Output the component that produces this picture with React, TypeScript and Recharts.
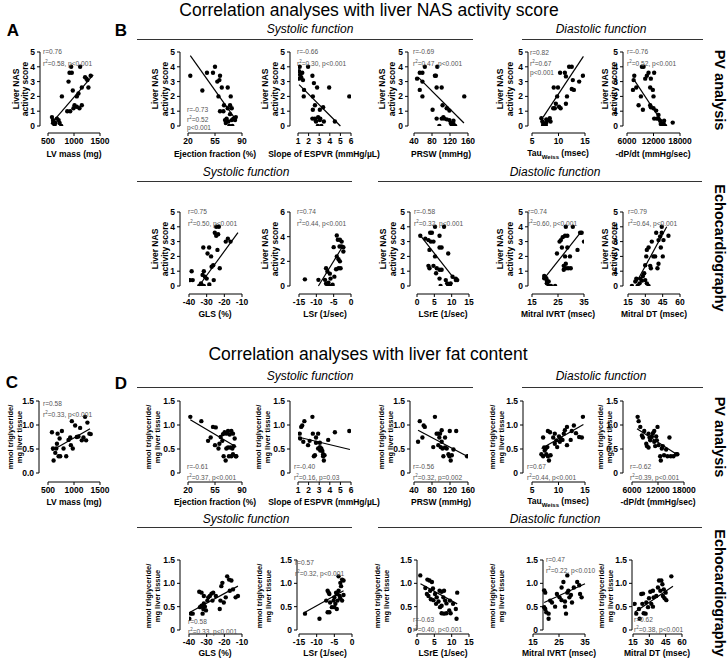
import React from "react";
import { ScatterChart, Scatter, XAxis, YAxis, ReferenceLine } from "recharts";

// ---- data: [x, y] pairs ----

// NAS activity score, PV analysis
const lvMassNas = [[576,0.6],[596,0.4],[608,0.3],[640,0.2],[672,0.5],[704,0.4],[723,0.2],[755,0],[627,0],[600,0.2],[767,2.0],[870,1.0],[927,1.0],[895,3.0],[914,3.6],[946,4.0],[958,3.6],[1118,4.0],[977,2.4],[1054,2.0],[1086,2.2],[990,1.2],[1054,1.3],[1105,1.2],[1150,1.4],[1150,2.6],[1213,3.3],[1258,3.1],[1320,3.4],[1277,2.6],[1240,3.2],[1010,1.4]];
const lvMassNasFit = [[557,0.15],[1370,3.45]];
const efNas = [[23,3.4],[38.6,2.4],[44.6,3.6],[52.4,3.6],[55,4.0],[58,3.0],[61.5,3.4],[60.7,3.1],[59.5,2.0],[63.8,2.6],[61.5,1.0],[65.9,1.0],[66.7,1.4],[71.5,2.6],[75.4,2.0],[74.5,1.4],[71.5,1.2],[76.7,1.2],[70,0.5],[72.3,0.3],[69,0.2],[73.5,0],[76.7,0.4],[78.8,0.5],[81,0.4],[77.5,0],[74.5,0.8],[82,0.6],[68,0.4]];
const efNasFit = [[23,4.75],[81,0.5]];
const espvrNas = [[1.16,4.0],[1.95,4.0],[1.1,3.7],[1.2,3.46],[1.3,3.3],[1.47,3.1],[1.1,3.2],[1.4,3.6],[1.57,2.44],[1.54,2.0],[2.36,3.4],[2.5,2.9],[2.8,2.6],[3.94,2.6],[5.84,2.0],[2.4,2.0],[2.6,1.4],[2.4,1.1],[3.06,1.1],[3.37,1.27],[2.36,0.5],[2.6,0.5],[2.9,0.6],[3.1,0.5],[2.7,0.3],[2.87,0],[3.2,0],[3.44,0.3],[4.48,0.3],[3.06,0.4],[2.68,0.36]];
const espvrNasFit = [[1.1,2.8],[5,0]];
const prswNas = [[46.8,3.2],[52.8,3.6],[58.7,3.6],[64,4.0],[52.8,2.44],[58.7,3.0],[58.7,2.0],[91.7,4.0],[86.5,3.4],[88.7,3.4],[90.3,2.6],[101.5,2.6],[81.3,1.1],[103.5,1.4],[112.7,1.2],[118.7,1.04],[90.3,0.5],[96.3,0],[101.5,0.5],[105.3,0.6],[112.7,0.45],[118.7,0.4],[121.6,0.2],[124,0.07],[127.7,0.14],[131.5,0],[127.7,0.36],[151.7,2.0],[107,0.5]];
const prswNasFit = [[49,3.3],[151,0.2]];
const tauNas = [[6.77,0.52],[6.96,0.3],[7.2,0.18],[7.4,0.14],[7.7,0.23],[7.1,0.07],[7.6,0.07],[8.0,0.4],[8.35,0.52],[7.7,0.45],[8.5,0.3],[9.0,1.2],[9.3,1.2],[9.5,1.5],[10.1,1.3],[10.4,1.2],[9.1,2.6],[9.9,2.6],[9.75,2.0],[10.3,3.6],[11.2,3.6],[11.4,3.35],[11.6,2.0],[11.4,1.5],[12.0,4.0],[12.5,4.0],[12.7,3.1],[12.5,2.5],[13.9,3.0],[14.6,3.4],[12.9,2.44]];
const tauNasFit = [[7.1,0.6],[14.7,4.7]];
const dpdtNas = [[7650,3.4],[7500,3.1],[7350,2.44],[8100,2.6],[8625,1.4],[9150,2.0],[9600,1.1],[9375,4.0],[9750,4.0],[10125,3.2],[10500,3.4],[10875,3.6],[11400,3.2],[12150,3.6],[11250,2.6],[11850,2.44],[12000,2.0],[11250,1.4],[11400,1.27],[12000,1.2],[12600,1.04],[12150,0.5],[12750,0.5],[13125,0.5],[13500,0.36],[13650,0.14],[13875,0],[14250,0.18],[14625,0],[14400,0.36],[16350,0.23],[13125,0.75]];
const dpdtNasFit = [[7650,3.1],[14300,0.1]];

// NAS activity score, echocardiography
const glsNas = [[-39.4,0.4],[-37.9,0.4],[-38.5,1.0],[-34.2,0],[-33.2,0.18],[-32.3,0],[-31.6,0],[-32.3,0.75],[-31,0.63],[-30,0.5],[-31.6,1.0],[-31.9,2.6],[-28.6,2.6],[-29.5,2.2],[-27.5,2.0],[-27.2,1.3],[-26.3,1.4],[-22.6,1.2],[-24.6,4.0],[-23.1,4.0],[-25.4,3.6],[-23.5,3.5],[-24.6,3.4],[-23.9,2.44],[-19.2,3.0],[-16.5,3.0],[-18,3.2],[-26,0.4],[-28.5,0.1]];
const glsNasFit = [[-34.4,0],[-12.3,3.6]];
const lsrNas = [[-13.3,0.54],[-9.4,0.5],[-7.2,1.44],[-6.8,1.17],[-6.1,1.0],[-7.5,0.5],[-7.2,0.2],[-6.8,0.1],[-6.5,0.27],[-6.2,0],[-5.3,0.1],[-5.9,0.6],[-4.8,0.76],[-4.1,4.1],[-3.8,3.75],[-3.2,3.75],[-2.7,3.6],[-3.3,3.2],[-2.7,3.2],[-2.2,3.15],[-4.1,2.4],[-3.6,2.17],[-3.2,2.0],[-4.3,1.36],[-3.6,1.44],[-3.0,1.44],[-5.0,3.15],[-2.2,2.8]];
const lsrNasFit = [[-9.4,0],[-2.2,3.3]];
const lsreNas = [[0.95,3.4],[2.4,3.2],[3.8,3.6],[4.3,3.6],[5.2,4.0],[6.5,3.4],[7.8,4.0],[3.3,3.1],[4.0,3.0],[4.75,3.0],[3.6,2.44],[5.2,2.0],[6.5,2.6],[7.1,2.6],[9.0,2.2],[3.3,1.36],[3.6,1.2],[4.75,1.36],[5.7,1.2],[6.5,1.1],[5.5,0.86],[7.1,1.1],[6.5,0.5],[6.8,0],[8.3,0.4],[8.7,0.18],[9.0,0],[9.7,0.18],[9.5,0],[10.25,0.63],[11.2,0.5],[11.6,0.4],[11.2,0.4]];
const lsreNasFit = [[1,3.4],[11.4,0.3]];
const ivrtNas = [[19.7,0.68],[19.7,0.52],[20.5,0.52],[20.7,0.36],[21.4,0.3],[20.7,0.18],[21.4,0],[22.3,0],[23.9,0],[24.6,2.2],[25.6,3.0],[26.1,3.1],[26.5,2.6],[26.8,3.3],[27.7,3.4],[28.0,4.0],[28.6,3.4],[28.6,2.6],[27.7,2.0],[27.2,1.36],[28.0,1.2],[28.9,1.2],[27.2,1.1],[28,1.5],[29.6,2.0],[29.9,1.2],[30.7,4.0],[32.5,2.44],[33.5,3.6],[34.1,3.6],[35,3.0]];
const ivrtNasFit = [[20.1,0.6],[34.1,3.7]];
const dtNas = [[18.4,0],[21.3,0.3],[22.2,0.5],[23.3,0],[25,0.18],[25.6,0.5],[27,0.36],[27.9,0.68],[29,0.86],[29.9,0.4],[31.3,0.18],[32.8,0],[29.9,1.4],[30.8,2.0],[31.3,2.44],[32.8,2.6],[35.6,3.0],[34.2,1.36],[34.8,1.2],[37,2.0],[38.5,2.0],[40.5,1.2],[41.4,1.5],[39.4,3.6],[41.4,3.1],[42.8,3.35],[44.2,4.0],[43.4,2.6],[45.1,2.0],[45.7,3.1],[50,3.4],[44.2,3.6]];
const dtNasFit = [[22.7,0.3],[48.5,4.0]];

// liver fat content, PV analysis
const lvMassFat = [[576,0.85],[596,0.51],[608,0.26],[640,0.42],[672,0.61],[685,0.82],[704,0.35],[735,0.35],[767,0.875],[723,0.72],[659,0.51],[799,0.51],[850,0.35],[895,0.69],[927,0.74],[940,0.58],[977,0.51],[958,1.08],[1022,0.99],[1054,0.75],[1086,0.76],[1118,0.94],[1150,0.68],[1182,0.74],[1213,1.17],[1258,1.05],[1296,0.82],[1322,0.81],[1233,0.68]];
const lvMassFatFit = [[576,0.47],[1309,0.92]];
const efFat = [[23,1.17],[37.3,1.08],[46,0.67],[52.4,0.96],[56,0.95],[49.4,0.74],[55,0.58],[60.7,0.61],[62.4,0.75],[59.5,0.51],[64.5,0.67],[65.4,0.81],[67.5,0.85],[69.7,0.82],[71.9,0.875],[74,0.8],[76.2,0.875],[78.3,0.82],[80.5,0.72],[69.7,0.51],[71.9,0.53],[75,0.53],[77.5,0.51],[79.3,0.56],[73.1,0.35],[76.2,0.35],[78.3,0.39],[81.8,0.35],[82.6,0.35],[68.8,0.26],[66.2,0.35]];
const efFatFit = [[23,1.11],[82.6,0.54]];
const espvrFat = [[1.16,0.82],[1.2,0.72],[1.3,0.96],[1.4,0.99],[1.6,1.08],[1.5,0.65],[1.95,0.58],[2.36,1.17],[2.4,0.82],[2.5,0.35],[2.6,0.37],[2.7,0.74],[2.7,0.63],[2.9,0.82],[2.9,0.51],[3.06,0.54],[3.1,0.47],[3.2,0.51],[3.3,0.46],[3.37,0.35],[3.44,0.26],[3.37,0.39],[3.5,0.37],[3.06,0.63],[3.85,0.69],[4.48,0.85],[5.84,0.875],[2.1,0.67]];
const espvrFatFit = [[1,0.75],[5.9,0.49]];
const prswFat = [[49,0.65],[52.8,1.08],[58.7,0.74],[61.5,0.99],[64,0.96],[82.8,0.54],[86.5,1.17],[90.3,0.82],[94,0.82],[96.3,0.74],[97.8,0.82],[94,0.58],[99.3,0.54],[101.5,0.65],[103.5,0.51],[105.3,0.35],[109,0.53],[112.7,0.51],[116.5,0.39],[118.7,0.35],[121.6,0.26],[124,0.37],[119.5,0.875],[127.7,0.49],[133.8,0.875],[158,0.35],[109,0.74],[101.5,0.89]];
const prswFatFit = [[49,0.89],[158,0.35]];
const tauFat = [[6.77,0.39],[7.1,0.35],[7.3,0.53],[7.4,0.47],[7.6,0.51],[7.7,0.39],[7.9,0.54],[8.0,0.35],[8.2,0.26],[8.5,0.37],[7.1,0.74],[8.0,0.875],[8.4,0.85],[9.0,0.74],[9.3,0.82],[9.6,0.68],[9.75,0.54],[10.1,0.76],[10.25,0.65],[10.4,0.72],[10.75,0.69],[11,0.82],[11.2,0.89],[11.6,0.96],[11.6,0.58],[12.3,0.69],[12.5,0.875],[13.3,0.83],[13.9,0.75],[14.4,0.74],[14.6,1.17],[12.9,0.99],[9.3,0.61]];
const tauFatFit = [[6.8,0.51],[14.7,1.01]];
const dpdtFat = [[7300,1.17],[7530,1.08],[7910,0.96],[8290,0.78],[8520,0.74],[8830,0.875],[9290,0.61],[9440,0.56],[9820,0.82],[10050,0.74],[10200,0.68],[10590,0.76],[10820,0.83],[11130,0.875],[11130,0.65],[11350,0.56],[11580,0.76],[11730,0.68],[11890,0.96],[12120,0.58],[12500,0.35],[12650,0.26],[12880,0.51],[13100,0.56],[13400,0.37],[13880,0.49],[14180,0.35],[14640,0.74],[14950,0.35],[15560,0.35],[16170,0.39],[16470,0.39],[9820,0.53]];
const dpdtFatFit = [[7150,0.92],[16300,0.39]];

// liver fat content, echocardiography
const glsFat = [[-39.8,0.24],[-39.1,0.35],[-37.9,0.35],[-32.9,0.8],[-34.2,0.82],[-31.6,0.73],[-33.8,0.49],[-32.9,0.52],[-31.9,0.45],[-31.6,0.57],[-31,0.5],[-30.4,0.42],[-32.3,0.35],[-29.6,0.63],[-29.1,0.7],[-28.2,0.73],[-27.2,0.78],[-26.3,0.8],[-26.7,0.63],[-24.8,0.73],[-22.6,0.45],[-22.2,0.63],[-21.7,0.94],[-21.1,1.01],[-20.3,0.59],[-19.2,0.7],[-18.4,1.15],[-17.3,1.08],[-16,1.06],[-16.9,0.84],[-15.1,0.87],[-13.6,0.7],[-12.3,0.73]];
const glsFatFit = [[-39.4,0.38],[-12.3,0.94]];
const lsrFat = [[-13.3,0.35],[-9.2,0.24],[-7.3,0.63],[-6.9,0.84],[-6.6,0.8],[-6.4,0.77],[-6.2,0.59],[-6.9,0.38],[-6.4,0.38],[-5.7,0.49],[-5.2,0.63],[-5.0,0.7],[-4.7,0.56],[-4.5,0.8],[-4.3,0.77],[-4.1,0.63],[-3.8,0.84],[-3.5,0.73],[-3.3,0.68],[-3.1,0.94],[-3.8,1.15],[-3.3,1.01],[-2.8,1.08],[-2.4,1.06],[-2.4,0.75],[-2.8,0.63],[-4.3,0.45],[-5.0,0.49]];
const lsrFatFit = [[-13.3,0.38],[-2.4,0.84]];
const lsreFat = [[0.95,1.17],[2.4,0.9],[3.0,1.08],[3.6,1.06],[4.3,1.03],[3.8,0.84],[4.6,0.89],[5.2,0.77],[2.85,0.77],[3.3,0.73],[4.0,0.66],[4.75,0.64],[5.7,0.7],[6.5,0.84],[7.1,0.82],[7.8,0.84],[5.5,0.56],[6.2,0.61],[6.65,0.49],[7.1,0.52],[7.6,0.7],[8.1,0.63],[8.5,0.57],[7.1,0.36],[7.8,0.35],[8.5,0.36],[9.3,0.42],[9.7,0.36],[10.4,0.56],[11.2,0.45],[11.4,0.24],[11.6,0.8],[9.5,0.63]];
const lsreFatFit = [[1,0.99],[11.6,0.56]];
const ivrtFat = [[19.3,0.85],[19.7,0.8],[19.3,0.49],[19.7,0.45],[20.1,0.38],[21,0.35],[21,0.24],[21.6,0.63],[22.3,0.59],[23.5,0.5],[24.2,0.77],[25.2,0.7],[26,0.91],[26.7,1.03],[27.3,0.61],[27.3,0.5],[27.7,0.35],[28.2,0.8],[28.6,0.84],[28.2,1.17],[29.6,0.75],[30,0.59],[30.7,0.91],[32,1.03],[32.8,0.96],[33.1,0.77],[33.7,0.7],[29,0.7],[26,0.64]];
const ivrtFatFit = [[19.3,0.59],[35,0.99]];
const dtFat = [[16.5,0.56],[18,0.35],[20.5,0.45],[21.1,0.24],[22.6,0.77],[23.6,0.56],[24.2,0.78],[24.8,0.36],[26.6,0.35],[27.2,0.59],[28.8,0.49],[29.7,0.68],[30.9,0.82],[31.8,0.56],[33.3,0.5],[34,0.7],[33.3,0.84],[36.4,0.73],[37.9,0.91],[38.9,1.06],[41,1.06],[42,0.98],[40.1,0.84],[43.3,0.87],[42.5,0.73],[44,0.68],[45.6,0.64],[45,0.8],[50.2,1.15]];
const dtFatFit = [[16.5,0.38],[51.7,0.94]];

// tick values
const NAS_TICKS = [0, 1, 2, 3, 4, 5];
const LSR_NAS_TICKS = [0, 2, 4, 6];
const FAT_TICKS = [0, 0.5, 1, 1.5];
const LV_TICKS = [500, 1000, 1500];
const EF_TICKS = [20, 55, 90];
const ESPVR_TICKS = [1, 2, 3, 4, 5, 6];
const PRSW_TICKS = [40, 80, 120, 160];
const TAU_TICKS = [5, 10, 15];
const DPDT_TICKS = [6000, 12000, 18000];
const GLS_TICKS = [-40, -30, -20, -10];
const LSR_TICKS = [-15, -10, -5, 0];
const LSRE_TICKS = [0, 5, 10, 15];
const IVRT_TICKS = [15, 25, 35];
const DT_TICKS = [15, 30, 45, 60];

const FONT = "'Liberation Sans', Arial, sans-serif";
const TICK = { fill: "#000", fontSize: 8.5, fontWeight: 700, fontFamily: FONT };
const AXW = 32, TOP = 6, RIGHT = 18, XAH = 22;

const fmtFat = (v: number) => (v === 0 ? "0" : v.toFixed(1));
const fmtFat0 = (v: number) => v.toFixed(1);

const Dot = (props: any) => <circle cx={props.cx} cy={props.cy} r={2.2} fill="#000" />;

interface PanelSpec {
  data: number[][];
  fit: number[][];
  xTicks: number[];
  yTicks: number[];
  yAxisX: number;
  xStart: number;
  xEnd: number;
  yTop: number;
  yBot: number;
  xAxisY: number;
  fmtY?: (v: number) => string;
}

function Panel(p: PanelSpec) {
  const x0 = p.xTicks[0];
  const x1 = p.xTicks[p.xTicks.length - 1];
  const y1 = p.yTicks[p.yTicks.length - 1];
  const kx = (x1 - x0) / (p.xEnd - p.xStart);
  const ky = y1 / (p.yBot - p.yTop);
  const xLineY = -(p.xAxisY - p.yBot) * ky;
  const yLineX = x0 - (p.xStart - p.yAxisX) * kx;
  const plotW = p.xEnd - p.yAxisX;
  const plotH = p.xAxisY - p.yTop;
  const pts = p.data.map(([x, y]) => ({ x, y }));
  const fit = p.fit.map(([x, y]) => ({ x, y }));
  return (
    <div style={{ position: "absolute", left: p.yAxisX - AXW, top: p.yTop - TOP }}>
      <ScatterChart
        width={AXW + plotW + RIGHT}
        height={TOP + plotH + XAH}
        margin={{ top: TOP, right: RIGHT, bottom: 0, left: 0 }}
      >
        <XAxis
          type="number"
          dataKey="x"
          domain={[x0, x1]}
          ticks={p.xTicks}
          interval={0}
          padding={{ left: p.xStart - p.yAxisX, right: 0 }}
          axisLine={false}
          tickLine={{ stroke: "#000" }}
          tickSize={3}
          height={XAH}
          tick={TICK}
          allowDataOverflow
        />
        <YAxis
          type="number"
          dataKey="y"
          domain={[0, y1]}
          ticks={p.yTicks}
          interval={0}
          padding={{ top: 0, bottom: p.xAxisY - p.yBot }}
          axisLine={false}
          tickLine={{ stroke: "#000" }}
          tickSize={3}
          width={AXW}
          tick={TICK}
          tickFormatter={p.fmtY}
          allowDataOverflow
        />
        <ReferenceLine segment={[{ x: x0, y: xLineY }, { x: x1, y: xLineY }]} stroke="#000" strokeWidth={1} ifOverflow="visible" />
        <ReferenceLine segment={[{ x: yLineX, y: 0 }, { x: yLineX, y: y1 }]} stroke="#000" strokeWidth={1} ifOverflow="visible" />
        <ReferenceLine segment={fit} stroke="#000" strokeWidth={1.2} ifOverflow="visible" />
        <Scatter data={pts} shape={Dot} isAnimationActive={false} />
      </ScatterChart>
    </div>
  );
}

// ---- text helpers ----
const Txt = ({ x, y, size = 8.5, bold = false, italic = false, color = "#000", rotate = 0, lh, children }: any) => (
  <div
    style={{
      position: "absolute",
      left: x,
      top: y,
      transform: `translate(-50%,-50%) rotate(${rotate}deg)`,
      fontSize: size,
      fontWeight: bold ? 700 : 400,
      fontStyle: italic ? "italic" : "normal",
      color,
      whiteSpace: "nowrap",
      lineHeight: lh ? `${lh}px` : 1.1,
      textAlign: "center",
    }}
  >
    {children}
  </div>
);

const Note = ({ x, y, lines, gap = 9 }: { x: number; y: number; lines: React.ReactNode[]; gap?: number }) => (
  <div style={{ position: "absolute", left: x, top: y - gap / 2, fontSize: 6.6, lineHeight: `${gap}px`, color: "#555", whiteSpace: "nowrap" }}>
    {lines.map((l, i) => (
      <div key={i}>{l}</div>
    ))}
  </div>
);

const Rule = ({ x1, x2, y }: { x1: number; x2: number; y: number }) => (
  <div style={{ position: "absolute", left: x1, top: y, width: x2 - x1, height: 0, borderTop: "1.2px solid #333" }} />
);

const r2 = (s: string) => (
  <span>
    r<sup style={{ fontSize: 4.5, verticalAlign: "3px" }}>2</sup>
    {s}
  </span>
);

const NAS_LABEL = (
  <>
    Liver NAS
    <br />
    activity score
  </>
);
const FAT_LABEL = (
  <>
    mmol triglyceride/
    <br />
    mg liver tissue
  </>
);

const R1 = { yTop: 52, yBot: 126, xAxisY: 133 };
const R2 = { yTop: 212, yBot: 286, xAxisY: 294 };
const R3 = { yTop: 401, yBot: 473, xAxisY: 482 };
const R4 = { yTop: 560, yBot: 630, xAxisY: 634 };

export default function App() {
  return (
    <div
      style={{
        position: "absolute",
        left: 0,
        top: 0,
        width: 728,
        height: 667,
        background: "#fff",
        fontFamily: FONT,
        overflow: "hidden",
      }}
    >
      {/* titles */}
      <Txt x={369} y={11} size={17.5}>Correlation analyses with liver NAS activity score</Txt>
      <Txt x={368} y={355} size={17.5}>Correlation analyses with liver fat content</Txt>
      <Txt x={13} y={31} size={17} bold>A</Txt>
      <Txt x={121} y={31} size={17} bold>B</Txt>
      <Txt x={12} y={383} size={17} bold>C</Txt>
      <Txt x={121} y={384} size={17} bold>D</Txt>

      {/* section headings */}
      <Txt x={310} y={30} size={12} italic>Systolic function</Txt>
      <Rule x1={137} x2={473} y={39} />
      <Txt x={601} y={30} size={12} italic>Diastolic function</Txt>
      <Rule x1={522} x2={703} y={39} />
      <Txt x={246} y={173} size={12} italic>Systolic function</Txt>
      <Rule x1={137} x2={352} y={181} />
      <Txt x={555} y={173} size={12} italic>Diastolic function</Txt>
      <Rule x1={378} x2={702} y={181} />
      <Txt x={310} y={377} size={12} italic>Systolic function</Txt>
      <Rule x1={137} x2={473} y={387} />
      <Txt x={601} y={377} size={12} italic>Diastolic function</Txt>
      <Rule x1={522} x2={703} y={387} />
      <Txt x={246} y={520} size={12} italic>Systolic function</Txt>
      <Rule x1={137} x2={352} y={527} />
      <Txt x={555} y={520} size={12} italic>Diastolic function</Txt>
      <Rule x1={378} x2={702} y={527} />

      <Txt x={719} y={90} size={14.5} bold rotate={90}>PV analysis</Txt>
      <Txt x={719} y={248} size={14.5} bold rotate={90}>Echocardiography</Txt>
      <Txt x={719} y={437} size={14.5} bold rotate={90}>PV analysis</Txt>
      <Txt x={719} y={593} size={14.5} bold rotate={90}>Echocardiography</Txt>

      {/* row 1: NAS, PV */}
      <Panel data={lvMassNas} fit={lvMassNasFit} xTicks={LV_TICKS} yTicks={NAS_TICKS} yAxisX={40} xStart={48} xEnd={100} {...R1} />
      <Panel data={efNas} fit={efNasFit} xTicks={EF_TICKS} yTicks={NAS_TICKS} yAxisX={180} xStart={188} xEnd={242} {...R1} />
      <Panel data={espvrNas} fit={espvrNasFit} xTicks={ESPVR_TICKS} yTicks={NAS_TICKS} yAxisX={290} xStart={298} xEnd={351} {...R1} />
      <Panel data={prswNas} fit={prswNasFit} xTicks={PRSW_TICKS} yTicks={NAS_TICKS} yAxisX={408} xStart={414} xEnd={468} {...R1} />
      <Panel data={tauNas} fit={tauNasFit} xTicks={TAU_TICKS} yTicks={NAS_TICKS} yAxisX={528} xStart={532} xEnd={585} {...R1} />
      <Panel data={dpdtNas} fit={dpdtNasFit} xTicks={DPDT_TICKS} yTicks={NAS_TICKS} yAxisX={623} xStart={627} xEnd={680} {...R1} />

      {/* row 2: NAS, echo */}
      <Panel data={glsNas} fit={glsNasFit} xTicks={GLS_TICKS} yTicks={NAS_TICKS} yAxisX={180} xStart={189} xEnd={242} {...R2} />
      <Panel data={lsrNas} fit={lsrNasFit} xTicks={LSR_TICKS} yTicks={LSR_NAS_TICKS} yAxisX={290} xStart={299} xEnd={351} {...R2} />
      <Panel data={lsreNas} fit={lsreNasFit} xTicks={LSRE_TICKS} yTicks={NAS_TICKS} yAxisX={410} xStart={417} xEnd={469} {...R2} />
      <Panel data={ivrtNas} fit={ivrtNasFit} xTicks={IVRT_TICKS} yTicks={NAS_TICKS} yAxisX={528} xStart={532} xEnd={584} {...R2} />
      <Panel data={dtNas} fit={dtNasFit} xTicks={DT_TICKS} yTicks={NAS_TICKS} yAxisX={623} xStart={628} xEnd={680} {...R2} />

      {/* row 3: fat, PV */}
      <Panel data={lvMassFat} fit={lvMassFatFit} xTicks={LV_TICKS} yTicks={FAT_TICKS} fmtY={fmtFat0} yAxisX={39} xStart={48} xEnd={100} {...R3} />
      <Panel data={efFat} fit={efFatFit} xTicks={EF_TICKS} yTicks={FAT_TICKS} fmtY={fmtFat} yAxisX={180} xStart={188} xEnd={242} {...R3} />
      <Panel data={espvrFat} fit={espvrFatFit} xTicks={ESPVR_TICKS} yTicks={FAT_TICKS} fmtY={fmtFat} yAxisX={290} xStart={298} xEnd={351} {...R3} />
      <Panel data={prswFat} fit={prswFatFit} xTicks={PRSW_TICKS} yTicks={FAT_TICKS} fmtY={fmtFat} yAxisX={410} xStart={414} xEnd={468} {...R3} />
      <Panel data={tauFat} fit={tauFatFit} xTicks={TAU_TICKS} yTicks={FAT_TICKS} fmtY={fmtFat} yAxisX={523} xStart={532} xEnd={585} {...R3} />
      <Panel data={dpdtFat} fit={dpdtFatFit} xTicks={DPDT_TICKS} yTicks={FAT_TICKS} fmtY={fmtFat} yAxisX={623} xStart={632} xEnd={684} {...R3} />

      {/* row 4: fat, echo */}
      <Panel data={glsFat} fit={glsFatFit} xTicks={GLS_TICKS} yTicks={FAT_TICKS} fmtY={fmtFat} yAxisX={180} xStart={189} xEnd={242} {...R4} />
      <Panel data={lsrFat} fit={lsrFatFit} xTicks={LSR_TICKS} yTicks={FAT_TICKS} fmtY={fmtFat} yAxisX={297} xStart={299} xEnd={352} {...R4} />
      <Panel data={lsreFat} fit={lsreFatFit} xTicks={LSRE_TICKS} yTicks={FAT_TICKS} fmtY={fmtFat} yAxisX={417} xStart={417} xEnd={469} {...R4} />
      <Panel data={ivrtFat} fit={ivrtFatFit} xTicks={IVRT_TICKS} yTicks={FAT_TICKS} fmtY={fmtFat} yAxisX={543} xStart={533} xEnd={585} {...R4} />
      <Panel data={dtFat} fit={dtFatFit} xTicks={DT_TICKS} yTicks={FAT_TICKS} fmtY={fmtFat} yAxisX={632} xStart={633} xEnd={682} {...R4} />

      {/* y-axis titles */}
      <Txt x={21} y={89} bold rotate={-90} lh={9}>{NAS_LABEL}</Txt>
      <Txt x={160} y={89} bold rotate={-90} lh={9.5}>{NAS_LABEL}</Txt>
      <Txt x={270} y={89} bold rotate={-90} lh={9.5}>{NAS_LABEL}</Txt>
      <Txt x={387} y={89} bold rotate={-90} lh={9.5}>{NAS_LABEL}</Txt>
      <Txt x={505} y={89} bold rotate={-90} lh={9.5}>{NAS_LABEL}</Txt>
      <Txt x={610} y={89} bold rotate={-90} lh={9}>{NAS_LABEL}</Txt>
      <Txt x={160} y={249} bold rotate={-90} lh={9.5}>{NAS_LABEL}</Txt>
      <Txt x={270} y={249} bold rotate={-90} lh={9.5}>{NAS_LABEL}</Txt>
      <Txt x={388} y={249} bold rotate={-90} lh={9.5}>{NAS_LABEL}</Txt>
      <Txt x={505} y={249} bold rotate={-90} lh={9.5}>{NAS_LABEL}</Txt>
      <Txt x={610} y={249} bold rotate={-90} lh={9}>{NAS_LABEL}</Txt>
      <Txt x={15} y={437} size={7.5} bold rotate={-90} lh={8.5}>{FAT_LABEL}</Txt>
      <Txt x={153} y={437} size={7.5} bold rotate={-90} lh={8.5}>{FAT_LABEL}</Txt>
      <Txt x={263} y={437} size={7.5} bold rotate={-90} lh={8.5}>{FAT_LABEL}</Txt>
      <Txt x={386} y={437} size={7.5} bold rotate={-90} lh={8.5}>{FAT_LABEL}</Txt>
      <Txt x={497} y={437} size={7.5} bold rotate={-90} lh={8.5}>{FAT_LABEL}</Txt>
      <Txt x={605} y={437} size={7.5} bold rotate={-90} lh={8.5}>{FAT_LABEL}</Txt>
      <Txt x={153} y={596} size={7.5} bold rotate={-90} lh={8.5}>{FAT_LABEL}</Txt>
      <Txt x={264} y={596} size={7.5} bold rotate={-90} lh={8.5}>{FAT_LABEL}</Txt>
      <Txt x={382} y={596} size={7.5} bold rotate={-90} lh={8.5}>{FAT_LABEL}</Txt>
      <Txt x={497} y={596} size={7.5} bold rotate={-90} lh={8.5}>{FAT_LABEL}</Txt>
      <Txt x={606} y={596} size={7.5} bold rotate={-90} lh={8.5}>{FAT_LABEL}</Txt>

      {/* x-axis titles */}
      <Txt x={74} y={155} bold>LV mass (mg)</Txt>
      <Txt x={215} y={155} bold>Ejection fraction (%)</Txt>
      <Txt x={324} y={155} bold>Slope of ESPVR (mmHg/µL)</Txt>
      <Txt x={441} y={155} bold>PRSW (mmHg)</Txt>
      <Txt x={558} y={155} bold>Tau<sub style={{ fontSize: 6 }}>Weiss</sub> (msec)</Txt>
      <Txt x={653} y={155} bold>-dP/dt (mmHg/sec)</Txt>
      <Txt x={215} y={315} bold>GLS (%)</Txt>
      <Txt x={325} y={315} bold>LSr (1/sec)</Txt>
      <Txt x={443} y={315} bold>LSrE (1/sec)</Txt>
      <Txt x={558} y={315} bold>Mitral IVRT (msec)</Txt>
      <Txt x={654} y={315} bold>Mitral DT (msec)</Txt>
      <Txt x={74} y={503} bold>LV mass (mg)</Txt>
      <Txt x={215} y={503} bold>Ejection fraction (%)</Txt>
      <Txt x={324} y={503} bold>Slope of ESPVR (mmHg/µL)</Txt>
      <Txt x={441} y={503} bold>PRSW (mmHg)</Txt>
      <Txt x={558} y={503} bold>Tau<sub style={{ fontSize: 6 }}>Weiss</sub> (msec)</Txt>
      <Txt x={658} y={503} bold>-dP/dt (mmHg/sec)</Txt>
      <Txt x={215} y={654} bold>GLS (%)</Txt>
      <Txt x={325} y={654} bold>LSr (1/sec)</Txt>
      <Txt x={443} y={654} bold>LSrE (1/sec)</Txt>
      <Txt x={559} y={654} bold>Mitral IVRT (msec)</Txt>
      <Txt x={657} y={654} bold>Mitral DT (msec)</Txt>

      {/* statistics */}
      <Note x={43} y={52} lines={["r=0.76", r2("=0.58, p<0.001")]} gap={10} />
      <Note x={187} y={110} lines={["r=-0.73", r2("=0.52"), "p<0.001"]} gap={8} />
      <Note x={297} y={52} lines={["r=-0.66", r2("=0.30, p<0.001")]} gap={10} />
      <Note x={413} y={52} lines={["r=-0.69", r2("=0.47, p<0.001")]} gap={10} />
      <Note x={530} y={52} lines={["r=0.82", r2("=0.67"), "p<0.001"]} gap={9} />
      <Note x={627} y={52} lines={["r=-0.76", r2("=0.52, p<0.001")]} gap={10} />
      <Note x={188} y={212} lines={["r=0.75", r2("=0.50, p<0.001")]} gap={10} />
      <Note x={297} y={212} lines={["r=0.74", r2("=0.44, p<0.001")]} gap={10} />
      <Note x={414} y={212} lines={["r=-0.58", r2("=0.32, p<0.001")]} gap={10} />
      <Note x={528} y={212} lines={["r=0.74", r2("=0.60, p<0.001")]} gap={10} />
      <Note x={628} y={212} lines={["r=0.79", r2("=0.64, p<0.001")]} gap={10} />
      <Note x={43} y={403} lines={["r=0.58", r2("=0.33, p<0.001")]} />
      <Note x={187} y={466} lines={["r=-0.61", r2("=0.37, p<0.001")]} />
      <Note x={294} y={466} lines={["r=-0.40", r2("=0.16, p=0.03")]} />
      <Note x={413} y={466} lines={["r=-0.56", r2("=0.32, p=0.002")]} />
      <Note x={527} y={466} lines={["r=0.67", r2("=0.44, p<0.001")]} />
      <Note x={630} y={466} lines={["r=-0.62", r2("=0.39, p<0.001")]} />
      <Note x={188} y={622} lines={["r=0.58", r2("=0.33, p<0.001")]} gap={8.5} />
      <Note x={295} y={562} lines={["r=0.57", r2("=0.32, p<0.001")]} />
      <Note x={413} y={620} lines={["r=-0.63", r2("=0.40, p<0.001")]} gap={8.5} />
      <Note x={546} y={559} lines={["r=0.47", r2("=0.22, p<0.010")]} />
      <Note x={634} y={620} lines={["r=0.62", r2("=0.38, p<0.001")]} gap={8.5} />
    </div>
  );
}
